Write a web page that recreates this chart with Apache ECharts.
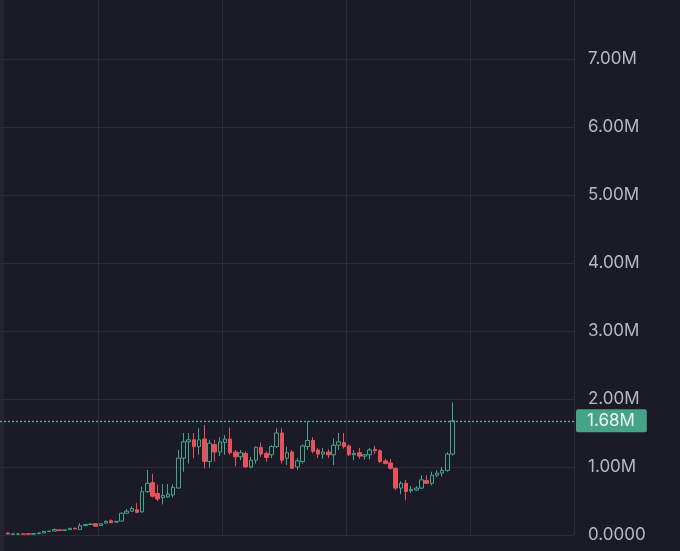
<!DOCTYPE html>
<html><head><meta charset="utf-8">
<script src="https://cdn.jsdelivr.net/npm/echarts@6/dist/echarts.min.js"></script>
<style>html,body{margin:0;padding:0;background:#1b1b28;}#c{width:680px;height:551px;}</style>
</head><body><div id="c"></div>
<script>
// Price in millions
const opens  = [0.030,0.012,0.013,0.016,0.020,0.012,0.020,0.030,0.052,0.058,0.076,0.066,0.080,0.101,0.082,0.138,0.155,0.165,0.140,0.175,0.210,0.190,0.205,0.320,0.350,0.370,0.340,0.637,0.770,0.610,0.550,0.560,0.590,0.690,1.130,1.370,1.400,1.300,1.410,1.080,1.330,1.220,1.360,1.410,1.220,1.150,1.200,1.000,1.100,1.290,1.200,1.180,1.300,1.500,1.130,1.220,1.000,1.080,1.300,1.390,1.250,1.190,1.220,1.180,1.320,1.360,1.310,1.180,1.210,1.160,1.180,1.260,1.240,1.090,1.060,0.980,0.690,0.760,0.650,0.660,0.690,0.800,0.760,0.880,0.910,0.950,1.190];
const closes = [0.015,0.015,0.016,0.012,0.012,0.020,0.030,0.054,0.056,0.080,0.066,0.075,0.098,0.090,0.137,0.155,0.162,0.130,0.165,0.200,0.180,0.200,0.320,0.350,0.390,0.333,0.637,0.760,0.570,0.530,0.580,0.600,0.700,1.130,1.370,1.400,1.300,1.400,1.080,1.350,1.220,1.370,1.410,1.210,1.150,1.210,1.000,1.100,1.290,1.190,1.140,1.300,1.500,1.100,1.210,0.980,1.090,1.310,1.390,1.230,1.190,1.220,1.180,1.320,1.370,1.300,1.180,1.200,1.160,1.180,1.250,1.240,1.080,1.050,0.980,0.690,0.760,0.640,0.670,0.690,0.810,0.760,0.880,0.910,0.950,1.190,1.680];
const lows   = [0.010,0.008,0.010,0.009,0.010,0.010,0.018,0.026,0.048,0.055,0.062,0.063,0.077,0.087,0.078,0.133,0.150,0.122,0.135,0.170,0.175,0.185,0.200,0.315,0.345,0.320,0.330,0.620,0.550,0.500,0.450,0.550,0.550,0.690,0.930,1.050,1.130,1.180,0.980,0.990,1.080,1.160,1.180,1.180,1.010,1.100,0.990,0.980,1.050,1.150,1.080,1.130,1.280,1.050,1.030,0.980,0.960,1.050,1.250,1.200,1.130,1.120,1.130,1.030,1.250,1.270,1.160,1.100,1.120,1.110,1.110,1.190,1.060,1.040,0.960,0.660,0.600,0.510,0.620,0.650,0.680,0.750,0.730,0.850,0.860,0.930,1.170];
const highs  = [0.035,0.018,0.019,0.018,0.022,0.024,0.034,0.060,0.060,0.095,0.080,0.080,0.102,0.104,0.176,0.165,0.168,0.172,0.170,0.215,0.230,0.205,0.330,0.380,0.420,0.466,0.710,0.956,0.900,0.740,0.750,0.750,0.745,1.250,1.500,1.500,1.500,1.570,1.620,1.400,1.400,1.440,1.470,1.580,1.250,1.250,1.230,1.150,1.300,1.360,1.230,1.320,1.570,1.570,1.300,1.250,1.130,1.330,1.670,1.440,1.280,1.280,1.260,1.420,1.500,1.500,1.330,1.250,1.280,1.190,1.280,1.310,1.260,1.120,1.120,0.990,0.790,0.810,0.720,0.720,0.880,0.880,0.930,0.950,1.000,1.220,1.950];

const slotCount = 111;      // time slots on the x axis (right side empty)
const firstSlot = 1;        // slot of the first candle
const vGridStart = 19, vGridEvery = 24;
const yMin = 0, yMax = 8, yStep = 1;

const slots = [];
for (let i = 0; i < slotCount; i++) slots.push(String(i));
const candles = opens.map((o, i) => [i + firstSlot, o, closes[i], lows[i], highs[i]]);
const lastClose = closes[closes.length - 1];

const UP = '#45a48a', DOWN = '#e8505b', GRID = '#2a2a3a';
const chart = echarts.init(document.getElementById('c'), null, {renderer: 'canvas'});
chart.setOption({
  backgroundColor: '#1b1b28',
  animation: false,
  graphic: [{type: 'rect', left: 0, top: 0, shape: {width: 4, height: 551}, style: {fill: '#24232f'}, silent: true}],
  grid: {left: 0, top: -9, width: 574, bottom: 16, containLabel: false, outerBoundsMode: 'none'},
  xAxis: {
    type: 'category', data: slots, boundaryGap: true,
    axisLine: {show: false}, axisTick: {show: false}, axisLabel: {show: false},
    splitLine: {show: true, interval: (i) => i >= vGridStart && (i - vGridStart) % vGridEvery === 0,
      lineStyle: {color: GRID, width: 1}}
  },
  yAxis: {
    type: 'value', position: 'right', min: yMin, max: yMax, interval: yStep,
    axisLine: {show: false}, axisTick: {show: false},
    splitLine: {show: true, lineStyle: {color: GRID, width: 1}},
    axisLabel: {color: '#b6b8c2', fontSize: 17, fontFamily: 'Inter', margin: 14,
      formatter: (v) => v === 0 ? '0.0000' : v.toFixed(2) + 'M'}
  },
  series: [{
    type: 'candlestick',
    data: candles,
    encode: {x: 0, y: [1, 2, 3, 4]},
    barWidth: 4,
    itemStyle: {color: 'transparent', color0: DOWN, borderColor: UP, borderColor0: DOWN, borderWidth: 1},
    emphasis: {disabled: true},
    markLine: {
      silent: true, symbol: ['none', 'none'], z: 1,
      data: [{yAxis: lastClose}],
      emphasis: {disabled: true},
      lineStyle: {type: [2, 2], color: '#4fb597', width: 1.4, opacity: 1},
      label: {show: true, position: 'end', distance: 2,
        formatter: (p) => Number(p.value).toFixed(2) + 'M',
        backgroundColor: '#45a387', color: '#eef5f2', fontSize: 17, fontFamily: 'Inter',
        lineHeight: 17, padding: [3, 12, 3, 11], borderRadius: 2}
    }
  }]
});
</script></body></html>
